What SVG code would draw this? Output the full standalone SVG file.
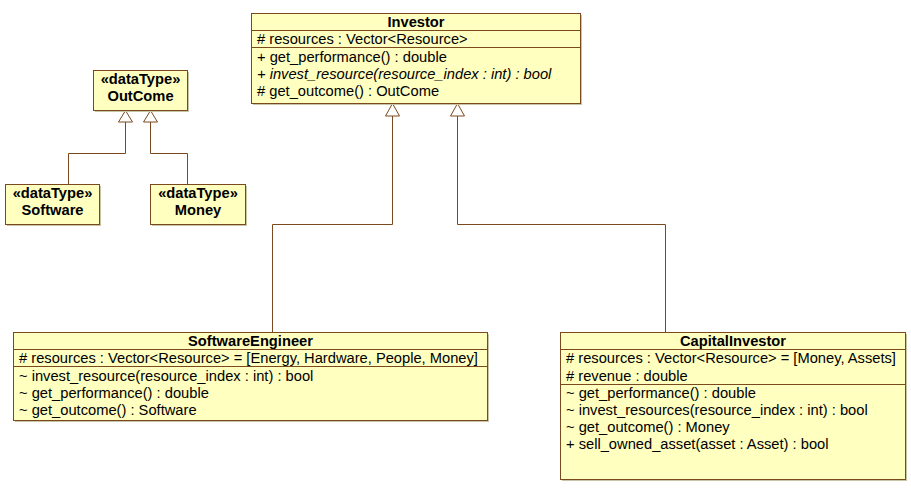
<svg xmlns="http://www.w3.org/2000/svg" width="911" height="488" viewBox="0 0 911 488">
<style>
.box{fill:#ffffc0;stroke:#7a4a1e;stroke-width:1}
.shadow{fill:#c8c4a8}
.sep{stroke:#7a4a1e;stroke-width:1}
.t{font-family:"Liberation Sans",Arial,sans-serif;font-size:14.7px;fill:#000}
.b{font-weight:bold;text-anchor:middle}
.i{font-style:italic}
.c{fill:none;stroke:#7a4a1e;stroke-width:1}
.tri{fill:#fff;stroke:#7a4a1e;stroke-width:1}
</style>
<rect width="911" height="488" fill="#fff"/>
<g id="connectors">
<polyline class="c" points="125.5,122 125.5,153.5 68.5,153.5 68.5,184"/>
<polyline class="c" points="150.5,122 150.5,153.5 187.5,153.5 187.5,184"/>
<polyline class="c" points="392.5,116 392.5,224.5 272.5,224.5 272.5,332"/>
<polyline class="c" points="457.5,116 457.5,224.5 665.5,224.5 665.5,332"/>
<polygon class="tri" points="125.5,110.5 118.5,122 132.5,122"/>
<polygon class="tri" points="150.5,110.5 143.5,122 157.5,122"/>
<polygon class="tri" points="392.5,103.5 385.5,116 399.5,116"/>
<polygon class="tri" points="457.5,103.5 450.5,116 464.5,116"/>
</g>
<g id="Investor">
<rect class="shadow" x="253" y="15" width="329" height="90"/>
<rect class="box" x="251.5" y="13.5" width="329" height="90"/>
<line class="sep" x1="251.5" y1="30.5" x2="580.5" y2="30.5"/>
<line class="sep" x1="251.5" y1="47.5" x2="580.5" y2="47.5"/>
<text class="t b" x="416" y="27">Investor</text>
<text class="t" x="257" y="44"># resources : Vector&lt;Resource&gt;</text>
<text class="t" x="257" y="62">+ get_performance() : double</text>
<text class="t i" x="257" y="79">+ invest_resource(resource_index : int) : bool</text>
<text class="t" x="257" y="96"># get_outcome() : OutCome</text>
</g>
<g id="OutCome">
<rect class="shadow" x="95" y="72" width="94" height="40"/>
<rect class="box" x="93.5" y="70.5" width="94" height="40"/>
<text class="t b" x="140.5" y="84">«dataType»</text>
<text class="t b" x="140.5" y="101">OutCome</text>
</g>
<g id="Software">
<rect class="shadow" x="7" y="186" width="94" height="40"/>
<rect class="box" x="5.5" y="184.5" width="94" height="40"/>
<text class="t b" x="52.5" y="198">«dataType»</text>
<text class="t b" x="52.5" y="215">Software</text>
</g>
<g id="Money">
<rect class="shadow" x="152" y="186" width="95" height="40"/>
<rect class="box" x="150.5" y="184.5" width="95" height="40"/>
<text class="t b" x="198" y="198">«dataType»</text>
<text class="t b" x="198" y="215">Money</text>
</g>
<g id="SoftwareEngineer">
<rect class="shadow" x="15" y="334" width="474" height="88"/>
<rect class="box" x="13.5" y="332.5" width="474" height="88"/>
<line class="sep" x1="13.5" y1="349.5" x2="487.5" y2="349.5"/>
<line class="sep" x1="13.5" y1="366.5" x2="487.5" y2="366.5"/>
<text class="t b" x="250.5" y="346">SoftwareEngineer</text>
<text class="t" x="19" y="363"># resources : Vector&lt;Resource&gt; = [Energy, Hardware, People, Money]</text>
<text class="t" x="19" y="380.5">~ invest_resource(resource_index : int) : bool</text>
<text class="t" x="19" y="397.5">~ get_performance() : double</text>
<text class="t" x="19" y="415">~ get_outcome() : Software</text>
</g>
<g id="CapitalInvestor">
<rect class="shadow" x="562" y="334" width="345" height="147"/>
<rect class="box" x="560.5" y="332.5" width="345" height="147"/>
<line class="sep" x1="560.5" y1="349.5" x2="905.5" y2="349.5"/>
<line class="sep" x1="560.5" y1="384.5" x2="905.5" y2="384.5"/>
<text class="t b" x="733" y="346">CapitalInvestor</text>
<text class="t" x="566" y="363"># resources : Vector&lt;Resource&gt; = [Money, Assets]</text>
<text class="t" x="566" y="381"># revenue : double</text>
<text class="t" x="566" y="398">~ get_performance() : double</text>
<text class="t" x="566" y="415">~ invest_resources(resource_index : int) : bool</text>
<text class="t" x="566" y="432">~ get_outcome() : Money</text>
<text class="t" x="566" y="449">+ sell_owned_asset(asset : Asset) : bool</text>
</g>
</svg>
